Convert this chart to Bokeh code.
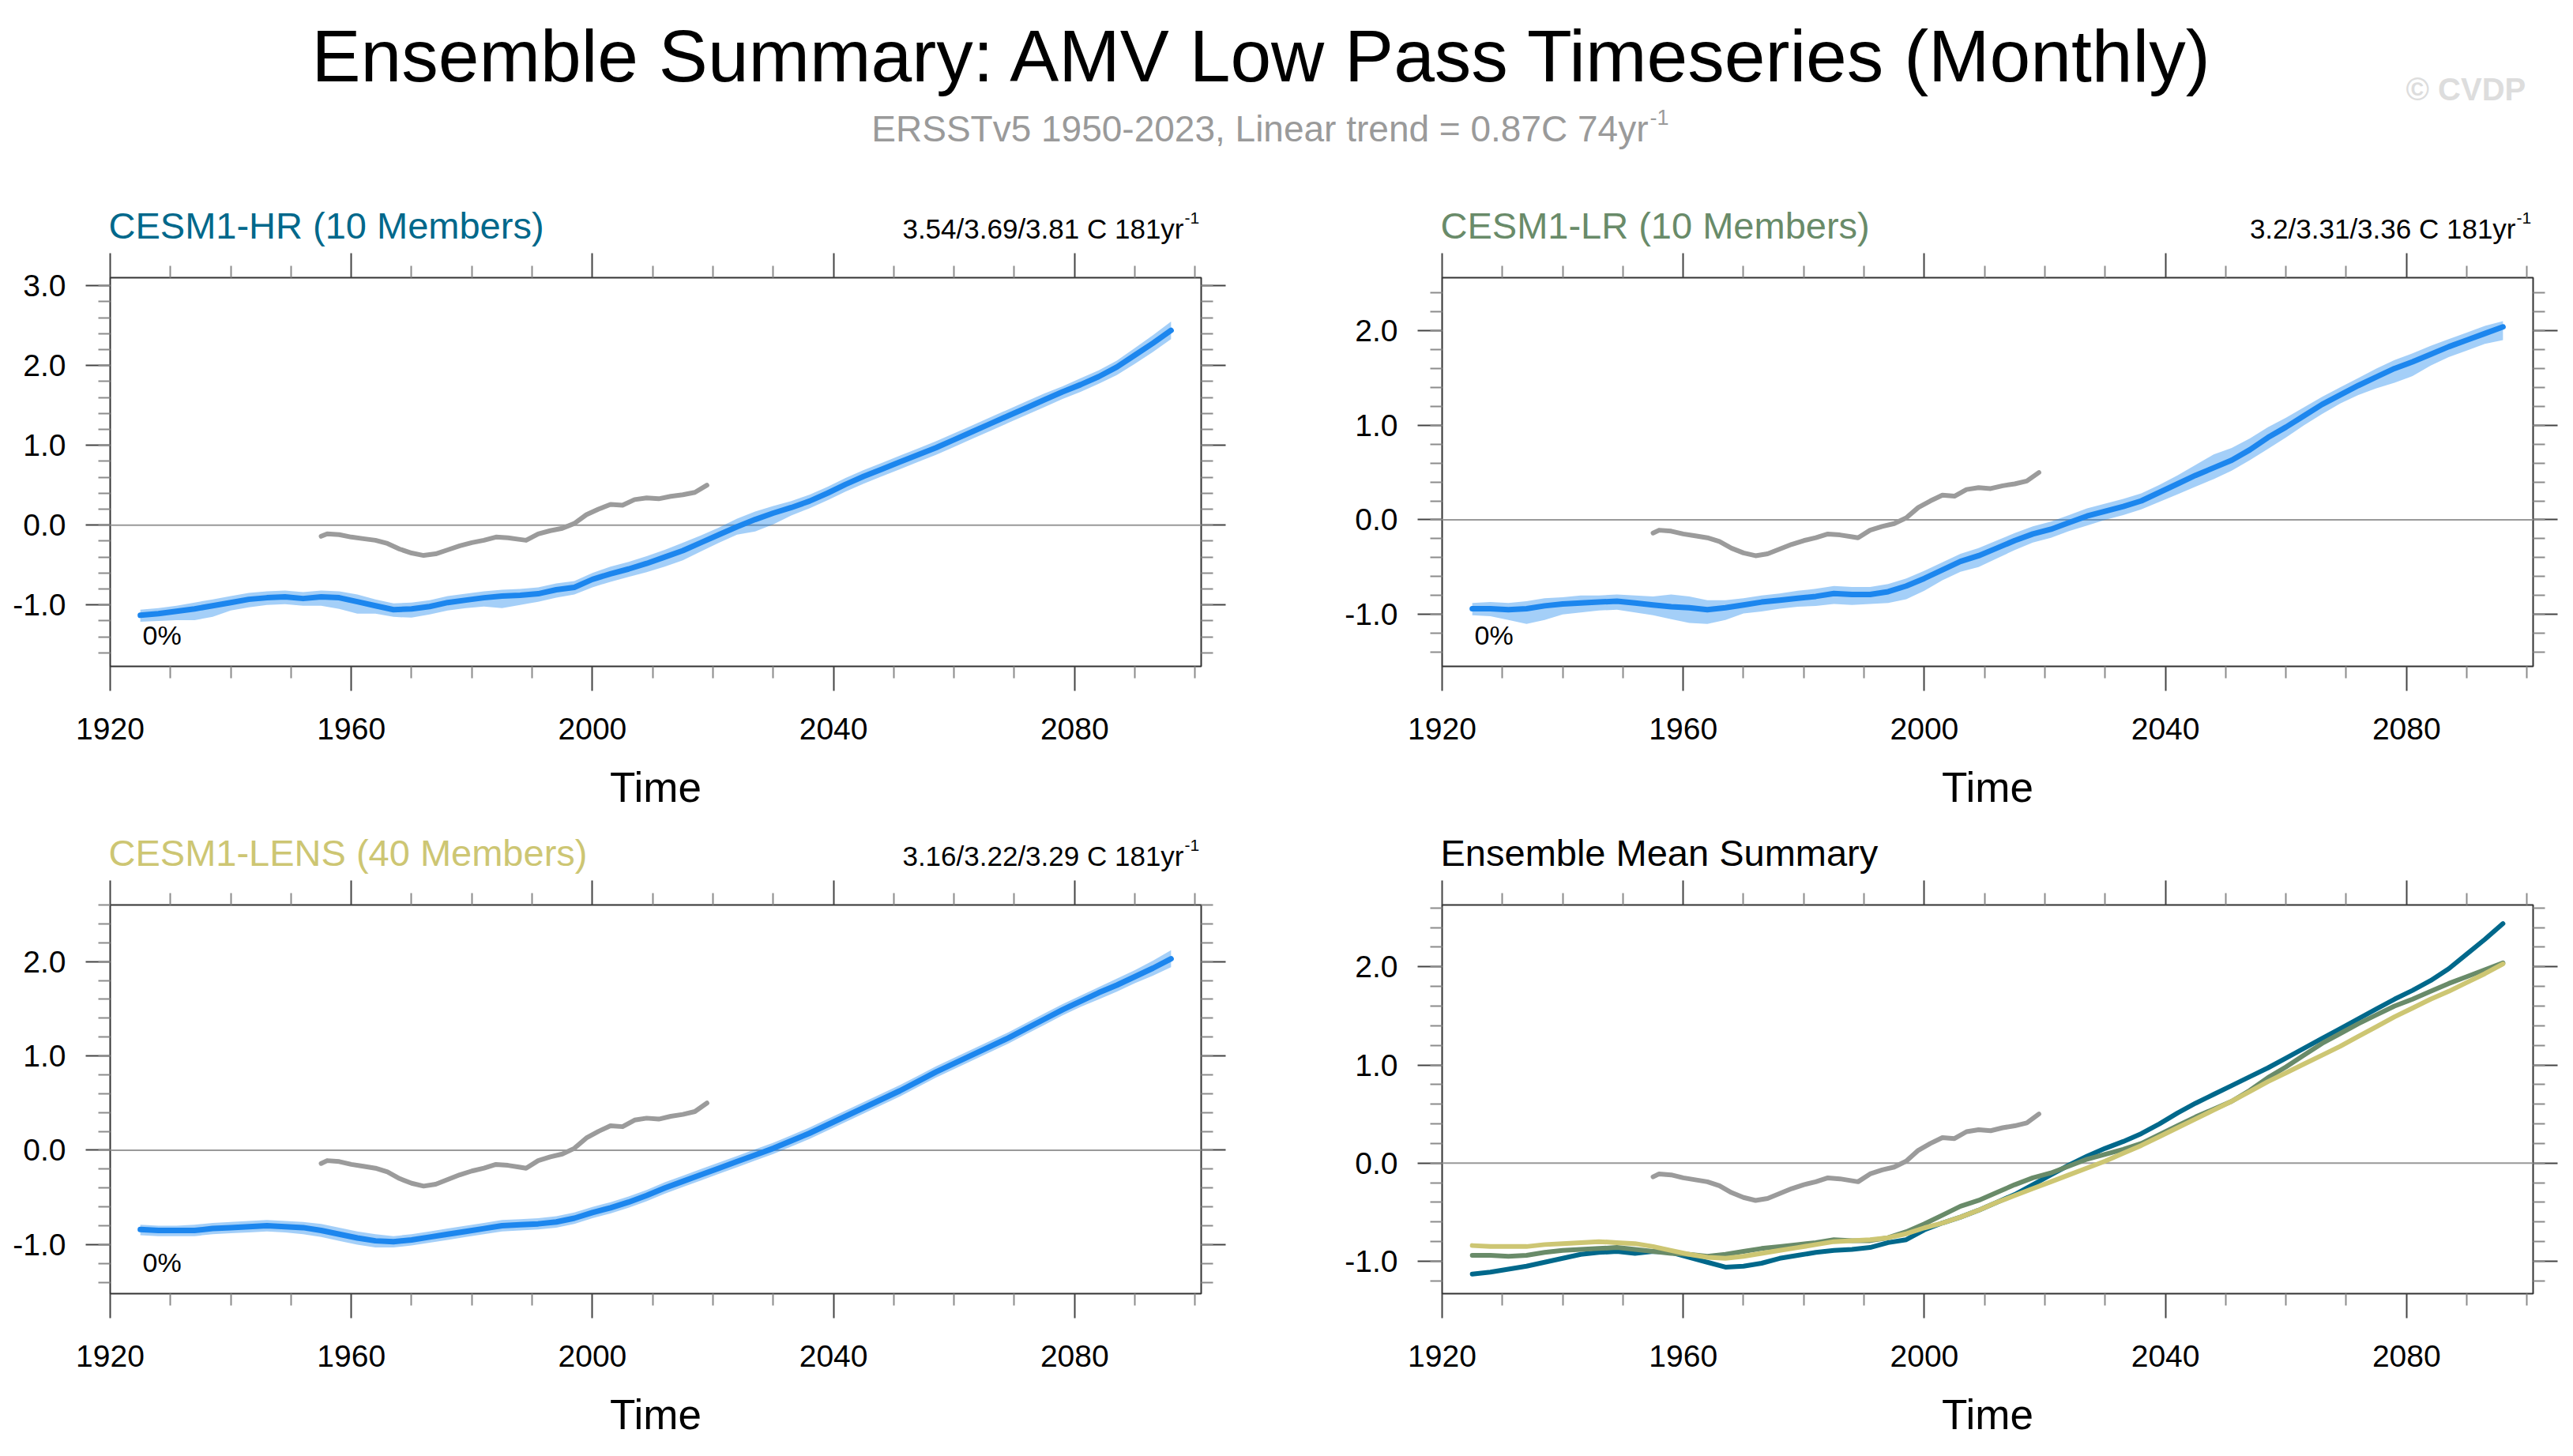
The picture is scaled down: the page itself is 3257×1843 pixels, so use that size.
from bokeh.plotting import figure
from bokeh.models import (Range1d, LinearAxis, FixedTicker, PrintfTickFormatter, Label, Span,
                          CustomLabelingPolicy)
from bokeh.layouts import column, row
from bokeh.embed import file_html
from bokeh.resources import INLINE
from bokeh.core.properties import value

FONT = "Liberation Sans"

# ---------------- data ----------------
TITLE = "Ensemble Summary: AMV Low Pass Timeseries (Monthly)"
SUBTITLE = "ERSSTv5 1950-2023, Linear trend = 0.87C 74yr"
SUB_SUP = "-1"
COPYRIGHT = "\u00a9 CVDP"

YEARS = [1925, 1928, 1931, 1934, 1937, 1940, 1943, 1946, 1949, 1952, 1955, 1958,
         1961, 1964, 1967, 1970, 1973, 1976, 1979, 1982, 1985, 1988, 1991, 1994,
         1997, 2000, 2003, 2006, 2009, 2012, 2015, 2018, 2021, 2024, 2027, 2030,
         2033, 2036, 2039, 2042, 2045, 2048, 2051, 2054, 2057, 2060, 2063, 2066,
         2069, 2072, 2075, 2078, 2081, 2084, 2087, 2090, 2093, 2096]

HR_MEAN = [-1.13, -1.11, -1.08, -1.05, -1.01, -0.97, -0.93, -0.91, -0.90, -0.92, -0.90, -0.91,
           -0.96, -1.01, -1.06, -1.05, -1.02, -0.97, -0.94, -0.91, -0.89, -0.88, -0.86, -0.81,
           -0.78, -0.68, -0.61, -0.55, -0.48, -0.40, -0.32, -0.22, -0.12, -0.02, 0.07, 0.15,
           0.22, 0.30, 0.40, 0.51, 0.61, 0.70, 0.79, 0.88, 0.97, 1.07, 1.17, 1.27,
           1.37, 1.47, 1.57, 1.67, 1.76, 1.86, 1.98, 2.13, 2.28, 2.44]
HR_LO = [-1.21, -1.20, -1.19, -1.19, -1.15, -1.07, -1.03, -1.00, -0.99, -1.01, -1.01, -1.05,
         -1.11, -1.11, -1.15, -1.16, -1.12, -1.07, -1.04, -1.02, -1.04, -1.00, -0.96, -0.91,
         -0.87, -0.78, -0.71, -0.65, -0.59, -0.52, -0.44, -0.33, -0.22, -0.12, -0.08, 0.01,
         0.12, 0.21, 0.31, 0.42, 0.52, 0.61, 0.70, 0.79, 0.88, 0.98, 1.08, 1.18,
         1.28, 1.38, 1.48, 1.58, 1.67, 1.77, 1.88, 2.02, 2.17, 2.33]
HR_HI = [-1.06, -1.04, -1.01, -0.97, -0.93, -0.89, -0.85, -0.83, -0.82, -0.84, -0.82, -0.83,
         -0.87, -0.93, -0.98, -0.97, -0.94, -0.89, -0.86, -0.83, -0.81, -0.80, -0.78, -0.73,
         -0.70, -0.60, -0.52, -0.46, -0.39, -0.31, -0.22, -0.13, -0.03, 0.08, 0.17, 0.24,
         0.30, 0.38, 0.48, 0.59, 0.69, 0.78, 0.87, 0.96, 1.05, 1.15, 1.25, 1.35,
         1.45, 1.55, 1.65, 1.74, 1.84, 1.94, 2.06, 2.22, 2.38, 2.55]

LR_MEAN = [-0.94, -0.94, -0.95, -0.94, -0.91, -0.89, -0.88, -0.87, -0.86, -0.88, -0.90, -0.92,
           -0.93, -0.95, -0.93, -0.90, -0.87, -0.85, -0.83, -0.81, -0.78, -0.79, -0.79, -0.76,
           -0.70, -0.62, -0.53, -0.44, -0.38, -0.30, -0.22, -0.15, -0.10, -0.03, 0.04, 0.09,
           0.14, 0.20, 0.29, 0.38, 0.47, 0.55, 0.63, 0.74, 0.87, 0.98, 1.10, 1.22,
           1.32, 1.42, 1.51, 1.60, 1.67, 1.75, 1.83, 1.90, 1.97, 2.04]
LR_LO = [-1.01, -1.02, -1.06, -1.10, -1.06, -1.00, -0.98, -0.96, -0.95, -0.98, -1.01, -1.05,
         -1.09, -1.10, -1.06, -0.99, -0.97, -0.94, -0.92, -0.91, -0.89, -0.90, -0.89, -0.88,
         -0.84, -0.75, -0.64, -0.55, -0.50, -0.41, -0.32, -0.24, -0.19, -0.12, -0.06, 0.00,
         0.05, 0.11, 0.19, 0.27, 0.35, 0.43, 0.52, 0.63, 0.75, 0.87, 1.00, 1.12,
         1.23, 1.32, 1.39, 1.45, 1.52, 1.63, 1.72, 1.79, 1.86, 1.90]
LR_HI = [-0.88, -0.87, -0.88, -0.86, -0.83, -0.82, -0.80, -0.80, -0.79, -0.80, -0.81, -0.79,
         -0.81, -0.85, -0.85, -0.83, -0.80, -0.78, -0.75, -0.73, -0.70, -0.71, -0.71, -0.68,
         -0.62, -0.54, -0.45, -0.36, -0.30, -0.22, -0.14, -0.07, -0.02, 0.05, 0.12, 0.17,
         0.22, 0.28, 0.37, 0.47, 0.58, 0.69, 0.76, 0.86, 0.98, 1.08, 1.19, 1.30,
         1.40, 1.50, 1.60, 1.69, 1.76, 1.84, 1.91, 1.98, 2.05, 2.10]

LENS_MEAN = [-0.84, -0.85, -0.85, -0.85, -0.83, -0.82, -0.81, -0.80, -0.81, -0.82, -0.85, -0.89,
             -0.93, -0.96, -0.97, -0.95, -0.92, -0.89, -0.86, -0.83, -0.80, -0.79, -0.78, -0.76,
             -0.72, -0.66, -0.61, -0.55, -0.48, -0.40, -0.33, -0.26, -0.19, -0.12, -0.05, 0.02,
             0.10, 0.18, 0.27, 0.36, 0.45, 0.54, 0.63, 0.73, 0.83, 0.92, 1.01, 1.10,
             1.19, 1.29, 1.39, 1.49, 1.58, 1.67, 1.75, 1.84, 1.93, 2.03]
LENS_LO = [-0.90, -0.91, -0.91, -0.91, -0.89, -0.88, -0.87, -0.86, -0.87, -0.89, -0.92, -0.96,
           -1.00, -1.03, -1.03, -1.01, -0.98, -0.95, -0.92, -0.89, -0.86, -0.85, -0.84, -0.82,
           -0.78, -0.72, -0.67, -0.61, -0.54, -0.46, -0.39, -0.32, -0.25, -0.18, -0.11, -0.04,
           0.04, 0.12, 0.21, 0.30, 0.39, 0.48, 0.57, 0.67, 0.77, 0.86, 0.95, 1.04,
           1.13, 1.23, 1.33, 1.43, 1.52, 1.60, 1.68, 1.77, 1.85, 1.94]
LENS_HI = [-0.79, -0.80, -0.80, -0.79, -0.77, -0.76, -0.75, -0.74, -0.75, -0.76, -0.78, -0.82,
           -0.86, -0.89, -0.91, -0.89, -0.86, -0.83, -0.80, -0.77, -0.74, -0.73, -0.72, -0.70,
           -0.66, -0.60, -0.55, -0.49, -0.42, -0.34, -0.27, -0.20, -0.13, -0.06, 0.01, 0.08,
           0.16, 0.24, 0.33, 0.42, 0.51, 0.60, 0.69, 0.79, 0.89, 0.98, 1.07, 1.16,
           1.25, 1.35, 1.45, 1.55, 1.64, 1.73, 1.82, 1.91, 2.01, 2.12]

OBS_YEARS = [1955, 1956, 1958, 1960, 1962, 1964, 1966, 1968, 1970, 1972, 1974, 1976,
             1978, 1980, 1982, 1984, 1986, 1988, 1989, 1991, 1993, 1995, 1997, 1999,
             2001, 2003, 2005, 2007, 2009, 2011, 2013, 2015, 2017, 2019]
OBS = [-0.14, -0.11, -0.12, -0.15, -0.17, -0.19, -0.23, -0.30, -0.35, -0.38, -0.36, -0.31,
       -0.26, -0.22, -0.19, -0.15, -0.16, -0.18, -0.19, -0.11, -0.07, -0.04, 0.02, 0.13,
       0.20, 0.26, 0.25, 0.32, 0.34, 0.33, 0.36, 0.38, 0.41, 0.50]

X_TICKS = [1920, 1960, 2000, 2040, 2080]
X_MINOR = [1930, 1940, 1950, 1970, 1980, 1990, 2010, 2020, 2030, 2050, 2060, 2070, 2090, 2100]
X_RANGE = (1920, 2101)

PANEL_TITLES = ["CESM1-HR (10 Members)", "CESM1-LR (10 Members)",
                "CESM1-LENS (40 Members)", "Ensemble Mean Summary"]
PANEL_COLORS = ["#00688B", "#698B69", "#CDC673", "#000000"]
TREND_TEXT = ["3.54/3.69/3.81 C 181yr", "3.2/3.31/3.36 C 181yr", "3.16/3.22/3.29 C 181yr", None]
TREND_SUP = "-1"
Y_RANGES = [(-1.77, 3.10), (-1.55, 2.56), (-1.52, 2.60), (-1.33, 2.63)]
Y_TICKS = [[-1.0, 0.0, 1.0, 2.0, 3.0], [-1.0, 0.0, 1.0, 2.0], [-1.0, 0.0, 1.0, 2.0], [-1.0, 0.0, 1.0, 2.0]]
PCT_TEXT = "0%"

BLUE = "#1C86EE"
OBS_COLOR = "#9b9b9b"

NO_LABELS = CustomLabelingPolicy(code="return new Set()")

PAGE_W = 3241
HEADER_H = 220
B_LEFT = 139
FRAME_W = 1381
FRAME_H = 494
B_TOP = 33
W_L, W_R = 1686, 1555


def style_axis(ax, ticker, show_labels):
    ax.ticker = ticker
    ax.axis_line_color = None
    ax.major_tick_out = 31
    ax.major_tick_in = 0
    ax.minor_tick_out = 15
    ax.minor_tick_in = 0
    ax.major_tick_line_color = "#444444"
    ax.major_tick_line_width = 2
    ax.minor_tick_line_color = "#8c8c8c"
    ax.minor_tick_line_width = 2
    ax.major_label_text_font = FONT
    ax.major_label_text_color = "black"
    if show_labels:
        ax.major_label_text_font_size = "39px"
    else:
        # mirrored tick marks only: labels filtered out entirely
        ax.major_label_text_font_size = "1px"
        ax.major_label_policy = NO_LABELS
        ax.major_label_standoff = 0


def make_strip(idx_pair, height, base):
    s = figure(width=PAGE_W, height=height, x_range=Range1d(0, PAGE_W), y_range=Range1d(height, 0),
               min_border=0, toolbar_location=None, output_backend="svg",
               x_axis_location=None, y_axis_location=None)
    s.grid.grid_line_color = None
    s.outline_line_color = None
    for col, i in enumerate(idx_pair):
        fx = B_LEFT + col * W_L          # frame left of this panel, in page coordinates
        s.text(x=[fx - 2], y=[base], text=[PANEL_TITLES[i]], text_font=value(FONT),
               text_font_size="47px", text_color=PANEL_COLORS[i], text_align="left",
               text_baseline="alphabetic")
        if TREND_TEXT[i] is not None:
            s.text(x=[fx + FRAME_W - 22], y=[base + 4], text=[TREND_TEXT[i]], text_font=value(FONT),
                   text_font_size="35px", text_color="black", text_align="right",
                   text_baseline="alphabetic")
            s.text(x=[fx + FRAME_W - 21], y=[base - 10], text=[TREND_SUP], text_font=value(FONT),
                   text_font_size="21px", text_color="black", text_align="left",
                   text_baseline="alphabetic")
    return s


def make_panel(i, width, b_right, b_bottom):
    ylo, yhi = Y_RANGES[i]
    height = B_TOP + FRAME_H + b_bottom
    p = figure(width=width, height=height, x_range=Range1d(*X_RANGE), y_range=Range1d(ylo, yhi),
               min_border_left=B_LEFT, min_border_right=b_right, min_border_top=B_TOP,
               min_border_bottom=b_bottom, toolbar_location=None, output_backend="svg",
               background_fill_color="white", border_fill_color="white")
    p.grid.visible = False
    p.outline_line_color = "#333333"
    p.outline_line_width = 2

    xt = FixedTicker(ticks=X_TICKS, minor_ticks=X_MINOR)
    ymin = [round(-2.0 + 0.2 * k, 1) for k in range(27)]
    ymin = [v for v in ymin if ylo <= v <= yhi]
    yt = FixedTicker(ticks=Y_TICKS[i], minor_ticks=ymin)

    bx = p.xaxis[0]
    style_axis(bx, xt, True)
    bx.major_label_standoff = 34
    bx.axis_label = "Time"
    bx.axis_label_text_font = FONT
    bx.axis_label_text_font_size = "53px"
    bx.axis_label_text_font_style = "normal"
    bx.axis_label_text_color = "black"
    bx.axis_label_standoff = 28

    ly = p.yaxis[0]
    style_axis(ly, yt, True)
    ly.major_label_standoff = 25
    ly.formatter = PrintfTickFormatter(format="%.1f")

    ta = LinearAxis()
    style_axis(ta, FixedTicker(ticks=X_TICKS, minor_ticks=X_MINOR), False)
    p.add_layout(ta, "above")
    ra = LinearAxis()
    style_axis(ra, FixedTicker(ticks=Y_TICKS[i], minor_ticks=ymin), False)
    p.add_layout(ra, "right")

    p.add_layout(Span(location=0, dimension="width", line_color="#999999", line_width=2,
                      level="underlay"))

    if i < 3:
        mean = [HR_MEAN, LR_MEAN, LENS_MEAN][i]
        lo = [HR_LO, LR_LO, LENS_LO][i]
        hi = [HR_HI, LR_HI, LENS_HI][i]
        p.varea(x=YEARS, y1=lo, y2=hi, fill_color=BLUE, fill_alpha=0.4)
        p.line(YEARS, mean, line_color=BLUE, line_width=7, line_cap="round", line_join="round")
        p.add_layout(Label(x=41, y=40, x_units="screen", y_units="screen", text=PCT_TEXT,
                           text_font=FONT, text_font_size="34px", text_color="black",
                           text_align="left", text_baseline="alphabetic"))
    else:
        for m, c in ((HR_MEAN, PANEL_COLORS[0]), (LR_MEAN, PANEL_COLORS[1]), (LENS_MEAN, PANEL_COLORS[2])):
            p.line(YEARS, m, line_color=c, line_width=6, line_cap="round", line_join="round")
    p.line(OBS_YEARS, OBS, line_color=OBS_COLOR, line_width=6, line_cap="round", line_join="round")
    return p


# header
header = figure(width=PAGE_W, height=HEADER_H, x_range=Range1d(0, PAGE_W), y_range=Range1d(HEADER_H, 0),
                min_border=0, toolbar_location=None, output_backend="svg",
                x_axis_location=None, y_axis_location=None)
header.grid.grid_line_color = None
header.outline_line_color = None
header.text(x=[1599], y=[70], text=[TITLE], text_font=value(FONT), text_font_size="93px",
            text_align="center", text_baseline="alphabetic", text_color="black")
header.text(x=[2086], y=[162], text=[SUBTITLE], text_font=value(FONT), text_font_size="46px",
            text_align="right", text_baseline="alphabetic", text_color="#9a9a9a")
header.text(x=[2088], y=[148], text=[SUB_SUP], text_font=value(FONT), text_font_size="27px",
            text_align="left", text_baseline="alphabetic", text_color="#9a9a9a")
header.text(x=[3045], y=[112], text=[COPYRIGHT], text_font=value(FONT), text_font_size="40px",
            text_font_style="bold", text_align="left", text_baseline="alphabetic", text_color="#dddddd")

R_L, R_R = W_L - B_LEFT - FRAME_W, W_R - B_LEFT - FRAME_W
p1 = make_panel(0, W_L, R_L, 191)
p2 = make_panel(1, W_R, R_R, 191)
p3 = make_panel(2, W_L, R_L, 190)
p4 = make_panel(3, W_R, R_R, 190)

layout = column(header,
                make_strip((0, 1), 96, 65), row(p1, p2, spacing=0),
                make_strip((2, 3), 76, 45), row(p3, p4, spacing=0),
                spacing=0)

open("out.html", "w").write(file_html(layout, INLINE))
